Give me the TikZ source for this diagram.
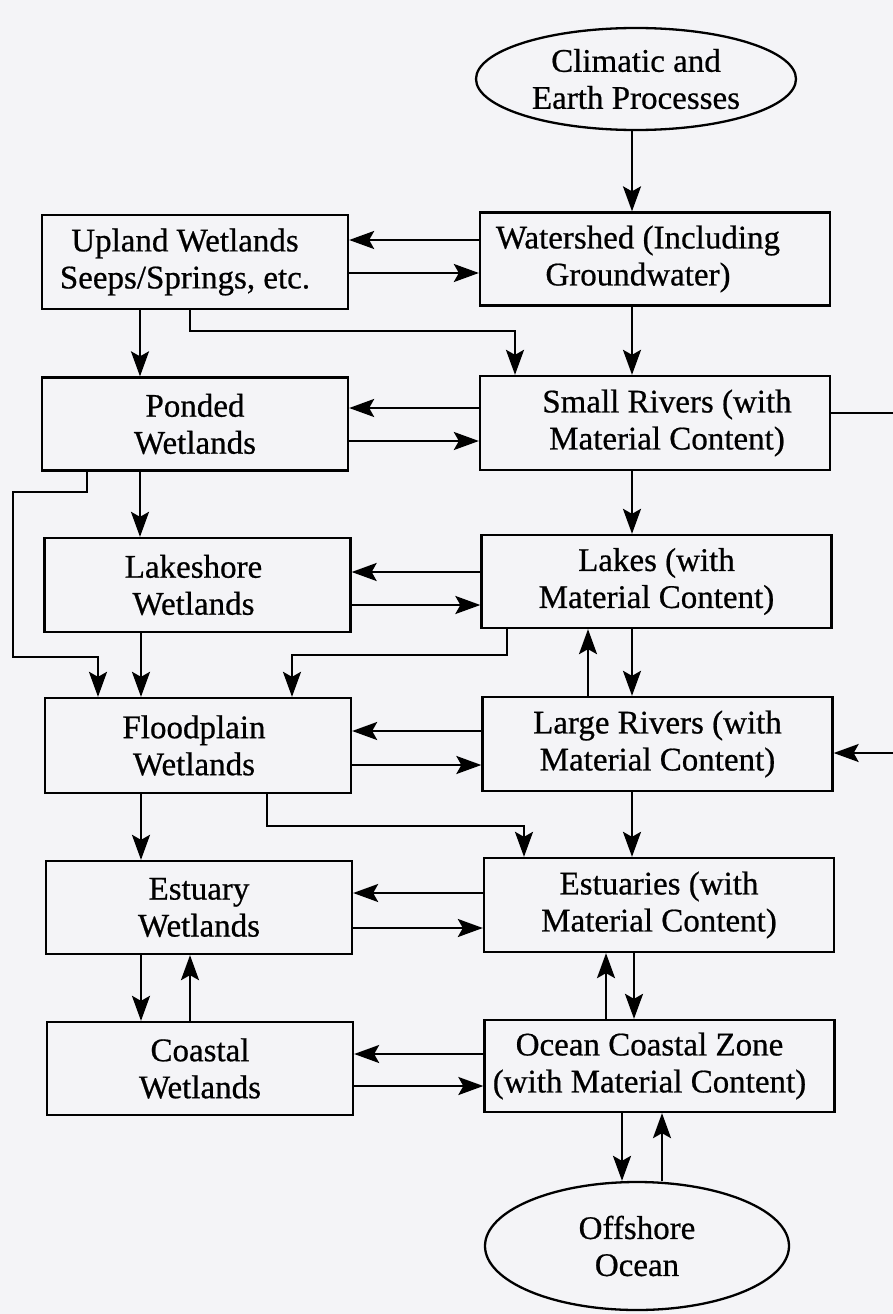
\documentclass[tikz,border=0pt]{standalone}
\usepackage{fontspec}
\setmainfont{Liberation Serif}
\newfontfamily\heavyfont{Liberation Serif}[FakeBold=0.6]
\usetikzlibrary{arrows.meta,shapes.geometric}
\definecolor{paper}{RGB}{244,244,247}
\newcommand{\shl}[1]{\hspace*{#1}}
\tikzset{
  box/.style={draw, line width=2.3pt, align=center, inner sep=0pt, font=\heavyfont\fontsize{33}{37}\selectfont},
  lbox/.style={box, minimum width=306pt, minimum height=93pt},
  rbox/.style={box, minimum width=350pt, minimum height=93pt},
  oval/.style={draw, line width=2.3pt, ellipse, align=center, inner sep=0pt, font=\heavyfont\fontsize{33}{37}\selectfont},
  arr/.style={line width=2.3pt, -{Stealth[length=25pt,width=18pt,inset=5pt]}},
  ln/.style={line width=2.3pt}
}
\begin{document}
\begin{tikzpicture}[x=1pt,y=-1pt]
\fill[paper] (0,0) rectangle (893,1314);
\useasboundingbox (0,0) rectangle (893,1314);
\clip (0,0) rectangle (893,1314);
% nodes
\node[oval, minimum width=320pt, minimum height=102pt] (climate) at (636,79) {Climatic and\\Earth Processes};
\node[rbox] (watershed) at (655,259) {\shl{-34pt}Watershed (Including\\\shl{-34pt}Groundwater)};
\node[lbox, minimum height=94pt] (upland) at (195,262) {\shl{-20pt}Upland Wetlands\\\shl{-20pt}Seeps/Springs, etc.};
\node[lbox] (ponded) at (195,424) {Ponded\\Wetlands};
\node[rbox, minimum height=94pt] (small) at (655,423) {\shl{24pt}Small Rivers (with\\\shl{24pt}Material Content)};
\node[lbox, minimum height=94pt] (lakeshore) at (197.5,585) {\shl{-8pt}Lakeshore\\\shl{-8pt}Wetlands};
\node[rbox] (lakes) at (656.5,581.5) {Lakes (with\\Material Content)};
\node[lbox, minimum height=95pt] (flood) at (198,745.5) {\shl{-8pt}Floodplain\\\shl{-8pt}Wetlands};
\node[rbox, minimum height=94pt] (large) at (657.5,744) {Large Rivers (with\\Material Content)};
\node[lbox] (estw) at (199,907.5) {Estuary\\Wetlands};
\node[rbox, minimum height=94pt] (estu) at (659,905) {Estuaries (with\\Material Content)};
\node[lbox] (coastw) at (200,1068.5) {Coastal\\Wetlands};
\node[rbox, minimum height=92pt] (ocean) at (659.5,1066) {\shl{-20pt}Ocean Coastal Zone\\\shl{-20pt}(with Material Content)};
\node[oval, minimum width=304pt, minimum height=128pt] (offshore) at (637,1246) {Offshore\\Ocean};
% main column
\draw[arr] (climate.south -| 632,0) -- (watershed.north -| 632,0);
\draw[arr] (watershed.south -| 632,0) -- (small.north -| 632,0);
\draw[arr] (small.south -| 632,0) -- (lakes.north -| 632,0);
\draw[arr] (lakes.south -| 632,0) -- (large.north -| 632,0);
\draw[arr] (large.north -| 588,0) -- (lakes.south -| 588,0);
\draw[arr] (large.south -| 632,0) -- (estu.north -| 632,0);
\draw[arr] (estu.south -| 634,0) -- (ocean.north -| 634,0);
\draw[arr] (ocean.north -| 606,0) -- (estu.south -| 606,0);
\draw[arr] (ocean.south -| 622,0) -- (offshore.north -| 622,0);
\draw[arr] (offshore.north -| 662,0) -- (ocean.south -| 662,0);
% horizontal pairs
\draw[arr] (watershed.west |- 0,240) -- (upland.east |- 0,240);
\draw[arr] (upland.east |- 0,273) -- (watershed.west |- 0,273);
\draw[arr] (small.west |- 0,408) -- (ponded.east |- 0,408);
\draw[arr] (ponded.east |- 0,441) -- (small.west |- 0,441);
\draw[arr] (lakes.west |- 0,572) -- (lakeshore.east |- 0,572);
\draw[arr] (lakeshore.east |- 0,605) -- (lakes.west |- 0,605);
\draw[arr] (large.west |- 0,731) -- (flood.east |- 0,731);
\draw[arr] (flood.east |- 0,765) -- (large.west |- 0,765);
\draw[arr] (estu.west |- 0,893) -- (estw.east |- 0,893);
\draw[arr] (estw.east |- 0,928) -- (estu.west |- 0,928);
\draw[arr] (ocean.west |- 0,1054) -- (coastw.east |- 0,1054);
\draw[arr] (coastw.east |- 0,1086) -- (ocean.west |- 0,1086);
% left column
\draw[arr] (upland.south -| 140,0) -- (ponded.north -| 140,0);
\draw[arr] (ponded.south -| 140,0) -- (lakeshore.north -| 140,0);
\draw[arr] (lakeshore.south -| 141,0) -- (flood.north -| 141,0);
\draw[arr] (flood.south -| 141,0) -- (estw.north -| 141,0);
\draw[arr] (estw.south -| 141,0) -- (coastw.north -| 141,0);
\draw[arr] (coastw.north -| 190,0) -- (estw.south -| 190,0);
% bypasses
\draw[arr] (upland.south -| 190,0) -- (190,331) -- (515,331) -- (small.north -| 515,0);
\draw[arr] (ponded.south -| 87,0) -- (87,492) -- (13,492) -- (13,657) -- (98,657) -- (flood.north -| 98,0);
\draw[arr] (lakes.south -| 507,0) -- (507,655) -- (292,655) -- (flood.north -| 292,0);
\draw[arr] (flood.south -| 267,0) -- (267,826) -- (524,826) -- (estu.north -| 524,0);
\draw[ln] (small.east |- 0,413) -- (905,413);
\draw[arr] (905,753) -- (large.east |- 0,753);
\end{tikzpicture}
\end{document}
